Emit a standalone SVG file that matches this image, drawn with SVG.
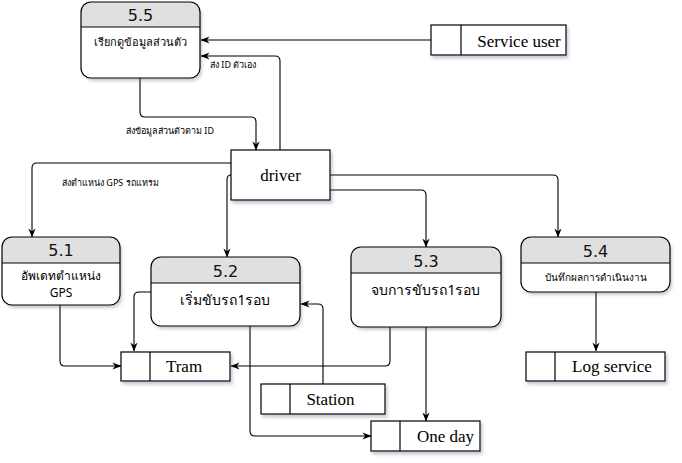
<svg xmlns="http://www.w3.org/2000/svg" width="682" height="463" viewBox="0 0 682 463">
<style>
.box{fill:none;stroke:#000;stroke-width:1.2}
.bg{fill:#fff}
.hd{fill:#e0e0e0}
.ln{stroke:#000;stroke-width:1.2;fill:none}
.num{font-family:"DejaVu Sans","Liberation Sans",sans-serif;font-size:16px;text-anchor:middle;fill:#111}
.th{font-family:"Noto Sans","Liberation Sans","DejaVu Sans",sans-serif;font-size:11px;text-anchor:middle;fill:#000}
.th2{font-size:14px}
.th3{font-size:12px}
.th4{font-size:10px}
.st{font-family:"Liberation Serif","Times New Roman",serif;font-size:17px;text-anchor:middle;fill:#000}
.lbl{font-family:"Noto Sans","Liberation Sans","DejaVu Sans",sans-serif;font-size:9px;fill:#000}
.c{stroke:#000;stroke-width:1.1;fill:none;marker-end:url(#arr)}
</style>
<defs>
<marker id="arr" viewBox="0 0 10 10" refX="9.5" refY="5" markerWidth="9" markerHeight="9" orient="auto" markerUnits="userSpaceOnUse">
<path d="M0,1 L10,5 L0,9 L3,5 Z" fill="#000"/>
</marker>
<filter id="sh" x="-10%" y="-10%" width="130%" height="140%">
<feDropShadow dx="2" dy="3" stdDeviation="1.5" flood-color="#505078" flood-opacity="0.3"/>
</filter>
</defs>
<rect width="682" height="463" fill="#fff"/>

<g id="connectors">
<path class="c" d="M431,40 H201"/>
<path class="c" d="M280,150 V61 Q280,56 275,56 H201"/>
<path class="c" d="M140,78 V112 Q140,117 145,117 H251 Q256,117 256,122 V150"/>
<path class="c" d="M231,163 H37 Q32,163 32,168 V237"/>
<path class="c" d="M231,175 Q227,175 227,180 V257"/>
<path class="c" d="M330,190 H421 Q426,190 426,195 V247"/>
<path class="c" d="M330,175 H553 Q558,175 558,180 V237"/>
<path class="c" d="M60,305 V361 Q60,366 65,366 H121"/>
<path class="c" d="M151,292 H139 Q134,292 134,297 V351"/>
<path class="c" d="M250,326 V431 Q250,436 255,436 H371"/>
<path class="c" d="M323,384 V309 Q323,304 318,304 H301"/>
<path class="c" d="M390,327 V361 Q390,366 385,366 H231"/>
<path class="c" d="M426,327 V421"/>
<path class="c" d="M596,292 V351"/>
<text class="lbl" x="210" y="68">ส่ง ID ตัวเอง</text>
<text class="lbl" x="170" y="134" text-anchor="middle">ส่งข้อมูลส่วนตัวตาม ID</text>
<text class="lbl" x="62" y="186">ส่งตำแหน่ง GPS รถแทรม</text>
</g>

<g id="p55">
<rect class="bg" x="81" y="2" width="119" height="76" rx="10" filter="url(#sh)"/>
<path class="hd" d="M81,27 V12 A10,10 0 0 1 91,2 H190 A10,10 0 0 1 200,12 V27 Z"/>
<rect class="box" x="81" y="2" width="119" height="76" rx="10"/>
<line class="ln" x1="81" y1="27" x2="200" y2="27"/>
<text class="num" x="140.5" y="21">5.5</text>
<text class="th" x="140.5" y="46">เรียกดูข้อมูลส่วนตัว</text>
</g>

<g id="p51">
<rect class="bg" x="2" y="237" width="118" height="68" rx="10" filter="url(#sh)"/>
<path class="hd" d="M2,263 V247 A10,10 0 0 1 12,237 H110 A10,10 0 0 1 120,247 V263 Z"/>
<rect class="box" x="2" y="237" width="118" height="68" rx="10"/>
<line class="ln" x1="2" y1="263" x2="120" y2="263"/>
<text class="num" x="61" y="256">5.1</text>
<text class="th th3" x="61" y="280">อัพเดทตำแหน่ง</text>
<text class="th th3" x="61" y="297">GPS</text>
</g>

<g id="p52">
<rect class="bg" x="151" y="257" width="149" height="69" rx="10" filter="url(#sh)"/>
<path class="hd" d="M151,283 V267 A10,10 0 0 1 161,257 H290 A10,10 0 0 1 300,267 V283 Z"/>
<rect class="box" x="151" y="257" width="149" height="69" rx="10"/>
<line class="ln" x1="151" y1="283" x2="300" y2="283"/>
<text class="num" x="225.5" y="277">5.2</text>
<text class="th th2" x="225.5" y="305">เริ่มขับรถ1รอบ</text>
</g>

<g id="p53">
<rect class="bg" x="351" y="247" width="150" height="80" rx="10" filter="url(#sh)"/>
<path class="hd" d="M351,273 V257 A10,10 0 0 1 361,247 H491 A10,10 0 0 1 501,257 V273 Z"/>
<rect class="box" x="351" y="247" width="150" height="80" rx="10"/>
<line class="ln" x1="351" y1="273" x2="501" y2="273"/>
<text class="num" x="426" y="267">5.3</text>
<text class="th th2" x="426" y="295">จบการขับรถ1รอบ</text>
</g>

<g id="p54">
<rect class="bg" x="521" y="237" width="149" height="55" rx="10" filter="url(#sh)"/>
<path class="hd" d="M521,263 V247 A10,10 0 0 1 531,237 H660 A10,10 0 0 1 670,247 V263 Z"/>
<rect class="box" x="521" y="237" width="149" height="55" rx="10"/>
<line class="ln" x1="521" y1="263" x2="670" y2="263"/>
<text class="num" x="595.5" y="257">5.4</text>
<text class="th th4" x="595.5" y="281">บันทึกผลการดำเนินงาน</text>
</g>

<g id="driver">
<rect class="bg box" x="231" y="150" width="99" height="50" filter="url(#sh)"/>
<text class="st" x="280.5" y="181">driver</text>
</g>

<g id="serviceuser">
<rect class="bg box" x="431" y="25" width="135" height="30" filter="url(#sh)"/>
<line class="ln" x1="461" y1="25" x2="461" y2="55"/>
<text class="st" x="519" y="46.5">Service user</text>
</g>

<g id="tram">
<rect class="bg box" x="121" y="352" width="109" height="29" filter="url(#sh)"/>
<line class="ln" x1="150" y1="352" x2="150" y2="381"/>
<text class="st" x="184" y="372">Tram</text>
</g>

<g id="station">
<rect class="bg box" x="261" y="384" width="124" height="30" filter="url(#sh)"/>
<line class="ln" x1="290" y1="384" x2="290" y2="414"/>
<text class="st" x="330.5" y="404.5">Station</text>
</g>

<g id="oneday">
<rect class="bg box" x="371" y="421" width="109" height="30" filter="url(#sh)"/>
<line class="ln" x1="400" y1="421" x2="400" y2="451"/>
<text class="st" x="445.5" y="442">One day</text>
</g>

<g id="logservice">
<rect class="bg box" x="526" y="352" width="139" height="29" filter="url(#sh)"/>
<line class="ln" x1="555" y1="352" x2="555" y2="381"/>
<text class="st" x="612" y="372">Log service</text>
</g>
</svg>
